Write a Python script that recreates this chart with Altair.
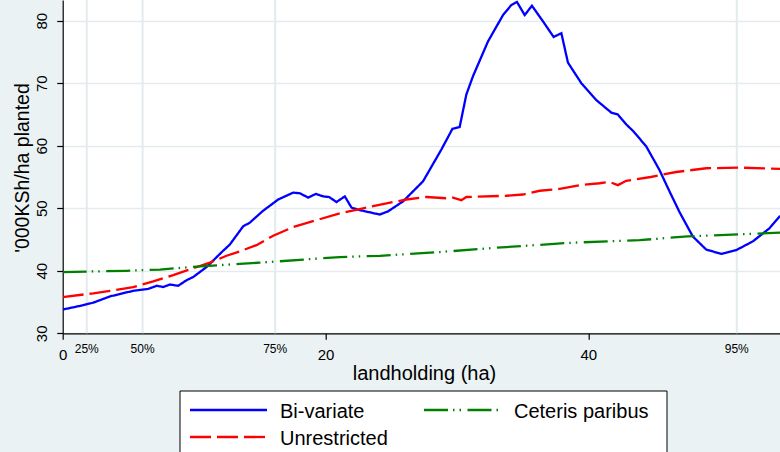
import altair as alt
import pandas as pd

# ---- predicted value ('000 KSh/ha planted) against landholding (ha) ----
bivariate_x = [0, 1.57, 2.33, 3.60, 5.37, 6.51, 7.15, 7.65, 8.16, 8.79, 9.43, 9.93,
               10.95, 12.21, 12.72, 13.73, 14.24, 15.25, 16.40, 17.54, 18.05, 18.68,
               19.26, 19.82, 20.27, 20.84, 21.47, 21.98, 22.61, 24.13, 24.76, 25.90,
               27.42, 28.82, 29.66, 30.21, 30.72, 31.22, 32.37, 33.51, 34.14, 34.57,
               35.16, 35.71, 36.55, 37.36, 37.95, 38.45, 39.47, 40.61, 41.75, 42.25,
               42.89, 43.39, 44.41, 45.42, 46.18, 46.94, 47.95, 48.97, 50.11, 51.25,
               52.52, 53.79, 54.6]
bivariate_y = [33.8, 34.5, 34.9, 35.9, 36.8, 37.1, 37.6, 37.4, 37.8, 37.6, 38.5, 39.0,
               40.6, 43.2, 44.2, 47.1, 47.7, 49.6, 51.4, 52.5, 52.4, 51.7,
               52.3, 51.9, 51.8, 51.0, 51.9, 50.1, 49.7, 49.0, 49.5, 51.1,
               54.3, 59.4, 62.7, 63.0, 68.2, 71.1, 76.7, 80.9, 82.5, 83.0,
               80.9, 82.4, 79.9, 77.4, 78.0, 73.3, 70.0, 67.3, 65.3, 65.0,
               63.4, 62.4, 59.9, 56.1, 52.7, 49.4, 45.5, 43.4, 42.7, 43.3,
               44.7, 46.8, 48.8]

unrestricted_x = [0, 2.33, 3.60, 5.37, 6.89, 8.41, 9.93, 11.20, 12.47, 13.48, 14.75,
                  16.02, 17.54, 19.32, 21.09, 22.86, 24.64, 26.16, 27.68, 29.20, 29.70,
                  30.34, 30.72, 33.76, 35.03, 36.30, 37.82, 39.34, 40.86, 41.61, 42.25,
                  42.89, 44.75, 46.69, 48.97, 51.51, 54.6]
unrestricted_y = [35.8, 36.4, 36.8, 37.4, 38.3, 39.3, 40.4, 41.3, 42.4, 43.1, 44.1,
                  45.6, 47.0, 48.1, 49.2, 50.0, 50.8, 51.4, 51.8, 51.6, 51.7,
                  51.3, 51.8, 52.0, 52.2, 52.8, 53.1, 53.7, 54.0, 54.2, 53.7,
                  54.4, 55.0, 55.8, 56.4, 56.5, 56.3]

ceteris_x = [0, 4.87, 7.40, 10.44, 13.48, 15.00, 21.09, 24.13, 28.69, 33.76, 38.83,
             43.90, 47.55, 54.6]
ceteris_y = [39.8, 40.0, 40.2, 40.7, 41.1, 41.3, 42.2, 42.4, 43.0, 43.8, 44.5,
             44.9, 45.5, 46.1]

# percentiles of the landholding distribution
pct_x = [1.83, 6.08, 16.17, 51.3]
pct_labels = ["25%", "50%", "75%", "95%"]

series_names = ["Bi-variate", "Unrestricted", "Ceteris paribus"]
series_colors = ["#0000ff", "#ff0000", "#008000"]
series_dashes = [[1, 0], [21, 6], [24, 5, 1.5, 5, 1.5, 6.5]]

rows = []
for name, xs, ys in zip(series_names,
                        [bivariate_x, unrestricted_x, ceteris_x],
                        [bivariate_y, unrestricted_y, ceteris_y]):
    for i, (x, y) in enumerate(zip(xs, ys)):
        rows.append({"series": name, "landholding": x, "value": y, "idx": i})
lines_df = pd.DataFrame(rows)
pct_df = pd.DataFrame({"landholding": pct_x, "label": pct_labels})
one = pd.DataFrame({"k": [0]})

# ---- layout (pixels) ----
PAD_L, PAD_B = 62.7, 118.7
W, H = 780 - PAD_L, 452 - PAD_B
X_MAX = W / 13.14
Y_MAX = 30 + H / 6.252
GRID = "#e3ebee"
FONT = "Liberation Sans"
LW = 2.3

x_scale = alt.Scale(domain=[0, X_MAX], nice=False, zero=False)
y_scale = alt.Scale(domain=[30, Y_MAX], nice=False, zero=False)

x_axis = alt.Axis(values=[0, 20, 40], title="landholding (ha)", grid=False,
                  tickSize=6, labelFontSize=15, labelBaseline="alphabetic",
                  labelPadding=19.7, labelFlush=False, labelOverlap=False,
                  titleFontSize=20, titleFontWeight="normal", titleX=361.3,
                  titleY=46, titleAlign="center", titleBaseline="alphabetic")
y_axis = alt.Axis(values=[30, 40, 50, 60, 70, 80], title="'000KSh/ha planted",
                  grid=True, gridColor=GRID, gridWidth=1.5,
                  tickSize=6, labelFontSize=15, labelAngle=270, labelAlign="center",
                  labelBaseline="alphabetic", labelPadding=10, labelFlush=False,
                  labelOverlap=False, titleFontSize=19.5, titleFontWeight="normal",
                  titleAngle=270, titleX=-34.7, titleY=167.5, titleAlign="center",
                  titleBaseline="alphabetic")

x_enc = alt.X("landholding:Q", scale=x_scale, axis=x_axis, title="landholding (ha)")

pct_grid = alt.Chart(pct_df).mark_rule(color=GRID, strokeWidth=2).encode(x=x_enc)

lines = alt.Chart(lines_df).mark_line(strokeWidth=LW, clip=True).encode(
    x=x_enc,
    y=alt.Y("value:Q", scale=y_scale, axis=y_axis, title="'000KSh/ha planted"),
    color=alt.Color("series:N", scale=alt.Scale(domain=series_names, range=series_colors),
                    legend=None),
    strokeDash=alt.StrokeDash("series:N",
                              scale=alt.Scale(domain=series_names, range=series_dashes),
                              legend=None),
    detail="series:N",
    order="idx:Q",
)

pct_text = alt.Chart(pct_df).mark_text(fontSize=12, align="center",
                                       baseline="alphabetic", color="black").encode(
    x=x_enc,
    y=alt.value(352.5),
    text="label:N",
)

# ---- legend box below the plot ----
box = alt.Chart(one).mark_rect(fill="white", stroke="black", strokeWidth=1).encode(
    x=alt.value(180 - PAD_L), x2=alt.value(667 - PAD_L),
    y=alt.value(391), y2=alt.value(480),
)


def legend_entry(name, color, dash, x0, x1, xt, y):
    sym = alt.Chart(one).mark_rule(color=color, strokeWidth=LW, strokeDash=dash).encode(
        x=alt.value(x0 - PAD_L), x2=alt.value(x1 - PAD_L), y=alt.value(y)
    )
    lab = alt.Chart(one).mark_text(text=name, fontSize=20, align="left",
                                   baseline="alphabetic", color="black").encode(
        x=alt.value(xt - PAD_L), y=alt.value(y + 8)
    )
    return sym + lab


leg1 = legend_entry(series_names[0], series_colors[0], series_dashes[0], 190, 267, 280, 410)
leg2 = legend_entry(series_names[1], series_colors[1], series_dashes[1], 190, 267, 280, 437)
leg3 = legend_entry(series_names[2], series_colors[2], series_dashes[2], 424, 498, 514, 410)

chart = alt.layer(pct_grid, lines, pct_text, box, leg1, leg2, leg3).properties(
    width=W, height=H,
    autosize=alt.AutoSizeParams(type="none"),
    padding={"left": PAD_L, "top": 0, "right": 0, "bottom": PAD_B},
).configure(
    background="#eaf2f3", font=FONT,
).configure_view(
    fill="white", stroke=None,
).configure_axis(
    domainColor="black", domainWidth=1.2, tickColor="black", tickWidth=1.2,
    labelColor="black", titleColor="black", labelFont=FONT, titleFont=FONT,
)

chart.save("out.html", embed_options={"renderer": "svg", "actions": False})
